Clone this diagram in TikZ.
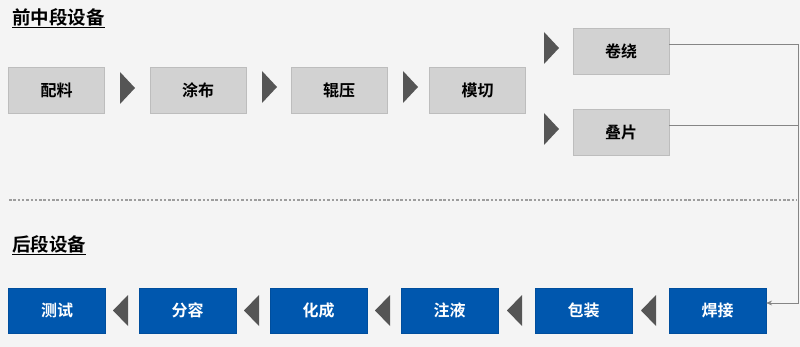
\documentclass[tikz,border=0pt]{standalone}
\usepackage{fontspec}
\setmainfont{Noto Sans CJK SC}
\newfontfamily\cjkb{Noto Sans CJK SC Bold}
\usetikzlibrary{arrows.meta}
\definecolor{bgc}{HTML}{F4F4F4}
\definecolor{greybox}{HTML}{D2D2D2}
\definecolor{bluebox}{HTML}{0057AE}
\definecolor{trig}{HTML}{555555}
\definecolor{linec}{HTML}{858585}
\tikzset{
  greystep/.style={fill=greybox, draw=greybox!90!black, line width=0.3pt, minimum width=96pt, minimum height=46pt, inner sep=0pt, font=\cjkb\fontsize{16}{16}\selectfont, text=black},
  bluestep/.style={fill=bluebox, draw=bluebox!90!black, line width=0.3pt, minimum width=97pt, minimum height=45pt, inner sep=0pt, font=\cjkb\fontsize{16}{16}\selectfont, text=white},
  sectitle/.style={anchor=west, inner sep=0pt, font=\cjkb\fontsize{18.5}{18.5}\selectfont},
  conn/.style={draw=linec, line width=0.8pt},
}
\begin{document}
\begin{tikzpicture}[x=1pt,y=-1pt]
\fill[bgc] (0,0) rectangle (800,347);
\useasboundingbox (0,0) rectangle (800,347);
% titles
\node[sectitle] (t1) at (12,18) {\underline{前中段设备}};
\node[sectitle] (t2) at (12,245) {\underline{后段设备}};
% top row
\node[greystep] (a1) at (56.5,90) {配料};
\node[greystep] (a2) at (198,90) {涂布};
\node[greystep] (a3) at (339,90) {辊压};
\node[greystep] (a4) at (477.5,90) {模切};
\node[greystep] (a5) at (621,51) {卷绕};
\node[greystep] (a6) at (621,132) {叠片};
% right triangles
\fill[trig] (120,72) -- (135,88) -- (120,104) -- cycle;
\fill[trig] (262,71) -- (277,87) -- (262,103) -- cycle;
\fill[trig] (403,71) -- (418,87) -- (403,103) -- cycle;
\fill[trig] (544,32) -- (559,48) -- (544,64) -- cycle;
\fill[trig] (544,113) -- (559,129) -- (544,145) -- cycle;
% dashed separator
\draw[linec!80, line width=1.2pt, dash pattern=on 2.5pt off 1.8pt] (9,200) -- (796,200);
% bottom row
\node[bluestep] (b1) at (57,310.5) {测试};
\node[bluestep] (b2) at (187.5,310.5) {分容};
\node[bluestep] (b3) at (318.5,310.5) {化成};
\node[bluestep] (b4) at (449.5,310.5) {注液};
\node[bluestep] (b5) at (583.5,310.5) {包装};
\node[bluestep] (b6) at (717.5,310.5) {焊接};
% left triangles
\fill[trig] (128,295) -- (113,310.5) -- (128,326) -- cycle;
\fill[trig] (259,295) -- (244,310.5) -- (259,326) -- cycle;
\fill[trig] (390,295) -- (375,310.5) -- (390,326) -- cycle;
\fill[trig] (522,295) -- (507,310.5) -- (522,326) -- cycle;
\fill[trig] (656,295) -- (641,310.5) -- (656,326) -- cycle;
% connectors
\coordinate (c1) at (798,44);
\coordinate (c2) at (798,125);
\coordinate (c3) at (798,303);
\coordinate (e6) at (b6.east |- c3);
\draw[conn] (a5.east |- c1) -- (c1);
\draw[conn] (a6.east |- c2) -- (c2);
\draw[conn, -{Stealth[length=6pt,width=5pt]}] (c1) -- (c3) -- (e6);
\end{tikzpicture}
\end{document}
